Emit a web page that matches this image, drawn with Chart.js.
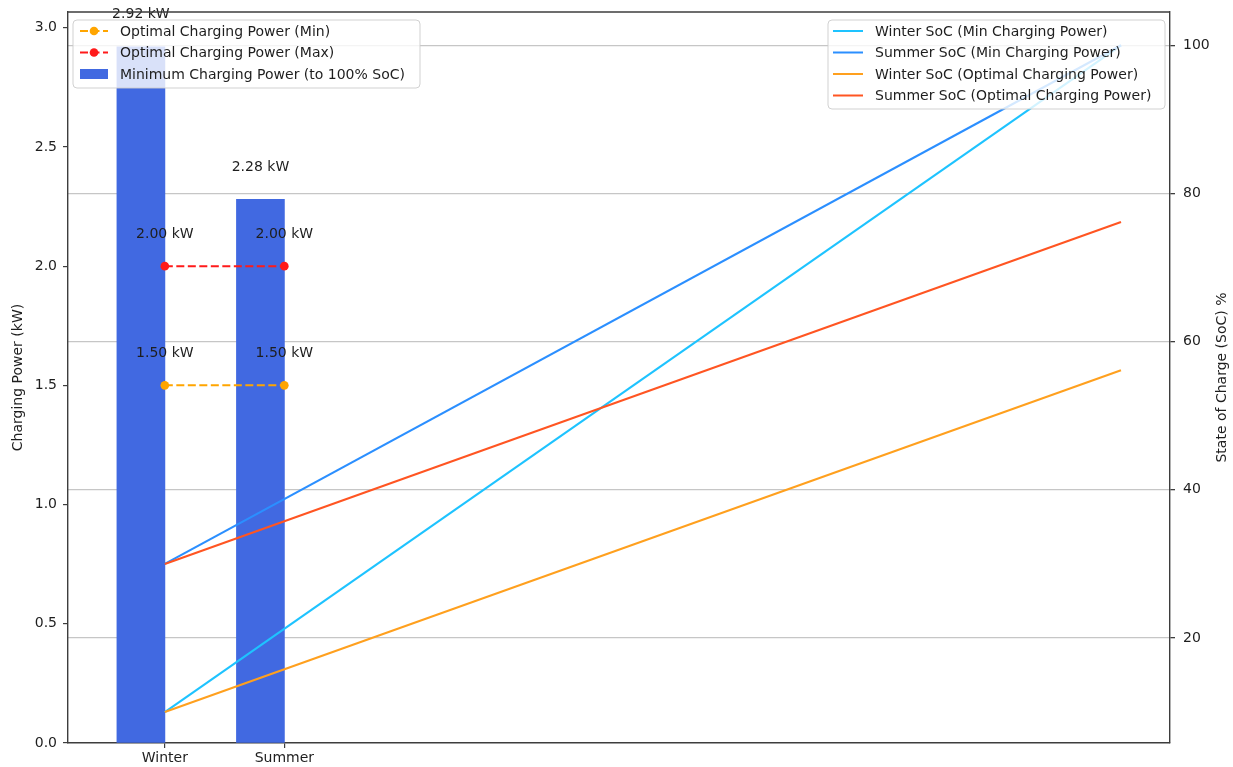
<!DOCTYPE html>
<html>
<head>
<meta charset="utf-8">
<script src="https://cdn.jsdelivr.net/npm/chart.js@4/dist/chart.umd.min.js"></script>
<style>
  html, body { margin: 0; padding: 0; background: #ffffff; }
  #wrap { width: 1233px; height: 767px; }
</style>
</head>
<body>
<div id="wrap"><canvas id="c" width="1233" height="767"></canvas></div>
<script>
// Seasons on the category axis
const seasons = ['Winter', 'Summer'];
// Minimum charging power needed to reach 100% SoC (kW)
const minChargingPower = [2.92, 2.28];
// Optimal charging power band (kW)
const optimalPowerMin = [1.50, 1.50];
const optimalPowerMax = [2.00, 2.00];
// Charging hours for the SoC curves (shared x axis)
const socHours = [0, 8];
const winterSocMin = [10, 100];
const summerSocMin = [30, 100];
const winterSocOpt = [10, 56.15];
const summerSocOpt = [30, 76.15];
// Tick values
const powerTicks = [0, 0.5, 1.0, 1.5, 2.0, 2.5, 3.0];
const socTicks = [20, 40, 60, 80, 100];

const FONT = '"DejaVu Sans", "Liberation Sans", sans-serif';
const AXIS_COLOR = '#3d3d3d';
const TEXT_COLOR = '#1e1e1e';

const C = {
  bar: '#4169e1',
  optMin: '#ffa500',
  optMax: '#ff1a1a',
  winterMin: '#1ec3ff',
  summerMin: '#2b8fff',
  winterOpt: '#ffa01e',
  summerOpt: '#ff5522'
};

const barOffset = -0.2;   // bars sit to the left of each season tick

const pts = (xs, ys) => xs.map((x, i) => ({ x: x, y: ys[i] }));

const datasets = [
  {
    type: 'bar',
    label: 'Minimum Charging Power (to 100% SoC)',
    data: seasons.map((s, i) => ({ x: i + barOffset, y: minChargingPower[i] })),
    backgroundColor: C.bar,
    borderWidth: 0,
    barThickness: 48,
    yAxisID: 'y',
    order: 10
  },
  {
    type: 'line',
    label: 'Optimal Charging Power (Min)',
    data: seasons.map((s, i) => ({ x: i, y: optimalPowerMin[i] })),
    borderColor: C.optMin,
    backgroundColor: C.optMin,
    borderWidth: 2,
    borderDash: [8, 3.5],
    pointRadius: 4.3,
    pointBorderWidth: 0,
    pointBackgroundColor: C.optMin,
    yAxisID: 'y',
    order: 8
  },
  {
    type: 'line',
    label: 'Optimal Charging Power (Max)',
    data: seasons.map((s, i) => ({ x: i, y: optimalPowerMax[i] })),
    borderColor: C.optMax,
    backgroundColor: C.optMax,
    borderWidth: 2,
    borderDash: [8, 3.5],
    pointRadius: 4.3,
    pointBorderWidth: 0,
    pointBackgroundColor: C.optMax,
    yAxisID: 'y',
    order: 7
  },
  {
    type: 'line', label: 'Winter SoC (Min Charging Power)',
    data: pts(socHours, winterSocMin), borderColor: C.winterMin,
    borderWidth: 2.1, pointRadius: 0, yAxisID: 'y2', order: 4
  },
  {
    type: 'line', label: 'Summer SoC (Min Charging Power)',
    data: pts(socHours, summerSocMin), borderColor: C.summerMin,
    borderWidth: 2.1, pointRadius: 0, yAxisID: 'y2', order: 3
  },
  {
    type: 'line', label: 'Winter SoC (Optimal Charging Power)',
    data: pts(socHours, winterSocOpt), borderColor: C.winterOpt,
    borderWidth: 2.1, pointRadius: 0, yAxisID: 'y2', order: 2
  },
  {
    type: 'line', label: 'Summer SoC (Optimal Charging Power)',
    data: pts(socHours, summerSocOpt), borderColor: C.summerOpt,
    borderWidth: 2.1, pointRadius: 0, yAxisID: 'y2', order: 1
  }
];

function drawLegend(ctx, box, rows, items) {
  ctx.save();
  ctx.beginPath();
  ctx.roundRect(box.x, box.y, box.w, box.h, 4);
  ctx.fillStyle = 'rgba(255,255,255,0.8)';
  ctx.fill();
  ctx.strokeStyle = 'rgba(204,204,204,0.9)';
  ctx.lineWidth = 1;
  ctx.stroke();
  ctx.font = '14px ' + FONT;
  ctx.textBaseline = 'middle';
  ctx.textAlign = 'left';
  items.forEach((it, k) => {
    const y = rows[k];
    const hx0 = box.x + box.hx0, hx1 = box.x + box.hx1;
    if (it.kind === 'rect') {
      ctx.fillStyle = it.color;
      ctx.fillRect(hx0, y - 5, hx1 - hx0, 10);
    } else {
      ctx.strokeStyle = it.color;
      ctx.lineWidth = 2;
      ctx.setLineDash(it.dash || []);
      ctx.beginPath();
      ctx.moveTo(hx0, y);
      ctx.lineTo(hx1, y);
      ctx.stroke();
      ctx.setLineDash([]);
      if (it.marker) {
        ctx.fillStyle = it.color;
        ctx.beginPath();
        ctx.arc((hx0 + hx1) / 2, y, 4.3, 0, Math.PI * 2);
        ctx.fill();
      }
    }
    ctx.fillStyle = TEXT_COLOR;
    ctx.fillText(it.label, box.x + box.tx, y + 1);
  });
  ctx.restore();
}

const overlayPlugin = {
  id: 'overlay',
  afterDraw(chart) {
    const ctx = chart.ctx;
    const area = chart.chartArea;
    ctx.save();
    ctx.font = '14px ' + FONT;
    ctx.fillStyle = TEXT_COLOR;
    ctx.textAlign = 'center';
    ctx.textBaseline = 'middle';

    // value labels above bars and optimal-power markers
    [0, 1, 2].forEach(di => {
      const meta = chart.getDatasetMeta(di);
      meta.data.forEach((el, i) => {
        const v = chart.data.datasets[di].data[i].y;
        ctx.fillText(v.toFixed(2) + ' kW', el.x, el.y - 32);
      });
    });

    // top frame line
    ctx.strokeStyle = AXIS_COLOR;
    ctx.lineWidth = 1.4;
    ctx.beginPath();
    ctx.moveTo(area.left, area.top);
    ctx.lineTo(area.right, area.top);
    ctx.stroke();

    // axis titles
    ctx.fillStyle = TEXT_COLOR;
    ctx.save();
    ctx.translate(18, (area.top + area.bottom) / 2);
    ctx.rotate(-Math.PI / 2);
    ctx.fillText('Charging Power (kW)', 0, 0);
    ctx.restore();
    ctx.save();
    ctx.translate(1222, (area.top + area.bottom) / 2);
    ctx.rotate(-Math.PI / 2);
    ctx.fillText('State of Charge (SoC) %', 0, 0);
    ctx.restore();
    ctx.restore();

    const ds = chart.data.datasets;
    drawLegend(ctx,
      { x: 73, y: 20, w: 347, h: 68, hx0: 7, hx1: 35, tx: 47 },
      [31, 52.5, 74],
      [
        { kind: 'line', color: C.optMin, dash: [8, 3.5], marker: true, label: ds[1].label },
        { kind: 'line', color: C.optMax, dash: [8, 3.5], marker: true, label: ds[2].label },
        { kind: 'rect', color: C.bar, label: ds[0].label }
      ]);
    drawLegend(ctx,
      { x: 828, y: 20, w: 337, h: 89, hx0: 5, hx1: 35, tx: 47 },
      [31, 52.5, 74, 95.5],
      [3, 4, 5, 6].map(i => ({ kind: 'line', color: ds[i].borderColor, label: ds[i].label })));
  }
};

const tickFont = { family: FONT, size: 14 };

// fixed axis boxes so the plot area spans x 68..1170, y 12..743
const fitVertical = w => s => { s.width = w; s.paddingTop = 0; s.paddingBottom = 0; };

new Chart(document.getElementById('c'), {
  type: 'bar',
  data: { datasets: datasets },
  plugins: [overlayPlugin],
  options: {
    responsive: false,
    animation: false,
    layout: { padding: { top: 12, left: 0, right: 0, bottom: 0 } },
    plugins: { legend: { display: false }, tooltip: { enabled: false } },
    scales: {
      x: {
        type: 'linear',
        min: -0.81,
        max: 8.41,
        offset: false,
        grid: { offset: false, drawOnChartArea: false, drawTicks: true, tickLength: 5, color: AXIS_COLOR, lineWidth: 1.2 },
        border: { display: true, color: AXIS_COLOR, width: 1.4 },
        afterBuildTicks: s => { s.ticks = seasons.map((n, i) => ({ value: i })); },
        afterFit: s => { s.height = 24; s.paddingLeft = 0; s.paddingRight = 0; },
        ticks: {
          autoSkip: false, maxRotation: 0, padding: 2,
          color: TEXT_COLOR, font: tickFont,
          callback: v => seasons[v]
        }
      },
      y: {
        type: 'linear',
        position: 'left',
        min: 0,
        max: 3.066,
        grid: { drawOnChartArea: false, drawTicks: true, tickLength: 5, color: AXIS_COLOR, lineWidth: 1.2 },
        border: { display: true, color: AXIS_COLOR, width: 1.4 },
        afterBuildTicks: s => { s.ticks = powerTicks.map(v => ({ value: v })); },
        afterFit: fitVertical(68),
        ticks: { padding: 6, color: TEXT_COLOR, font: tickFont, callback: v => Number(v).toFixed(1) }
      },
      y2: {
        type: 'linear',
        position: 'right',
        min: 5.83,
        max: 104.49,
        grid: { drawOnChartArea: true, drawTicks: true, tickLength: 5, color: '#c6c6c6', tickColor: AXIS_COLOR, lineWidth: 1.3 },
        border: { display: true, color: AXIS_COLOR, width: 1.4 },
        afterBuildTicks: s => { s.ticks = socTicks.map(v => ({ value: v })); },
        afterFit: fitVertical(63),
        ticks: { padding: 8, color: TEXT_COLOR, font: tickFont, callback: v => String(v) }
      }
    }
  }
});
</script>
</body>
</html>
